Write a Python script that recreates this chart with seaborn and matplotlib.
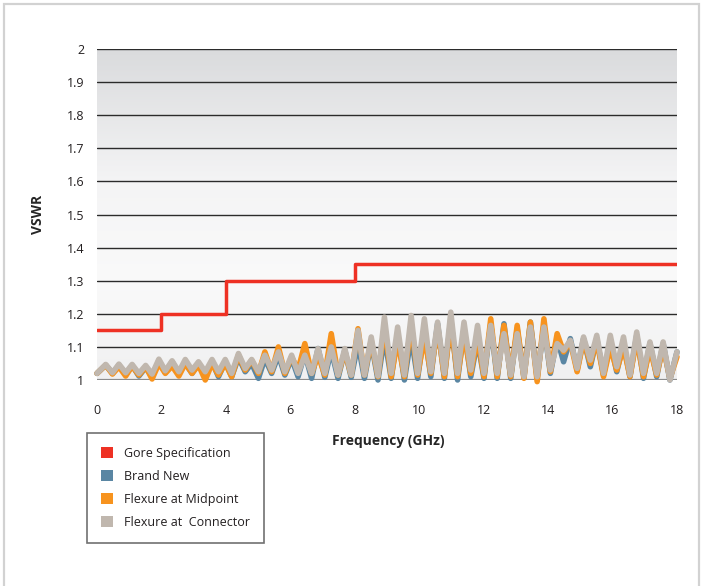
import matplotlib
matplotlib.use('Agg')
import matplotlib.pyplot as plt
import seaborn as sns
import numpy as np
from matplotlib.patches import Patch, Rectangle
from matplotlib.colors import LinearSegmentedColormap

# frequencies (GHz) of the read-off turning points, shared by the three measured curves
freq = [0.0,
        0.27, 0.48, 0.68, 0.89, 1.09, 1.30, 1.51, 1.71, 1.92, 2.12,
        2.33, 2.54, 2.74, 2.95, 3.15, 3.36, 3.57, 3.77, 3.98, 4.18,
        4.39, 4.60, 4.80, 5.01, 5.21, 5.42, 5.63, 5.83, 6.04, 6.24,
        6.45, 6.66, 6.86, 7.07, 7.27, 7.48, 7.69, 7.89, 8.10, 8.30,
        8.51, 8.72, 8.92, 9.13, 9.33, 9.54, 9.75, 9.95, 10.16, 10.36,
        10.57, 10.78, 10.98, 11.19, 11.39, 11.60, 11.81, 12.01, 12.22, 12.42,
        12.63, 12.84, 13.04, 13.25, 13.45, 13.66, 13.87, 14.07, 14.28, 14.48,
        14.69, 14.90, 15.10, 15.31, 15.51, 15.72, 15.93, 16.13, 16.34, 16.54,
        16.75, 16.96, 17.16, 17.37, 17.57, 17.78,
        18.0]

connector = [1.02,
             1.047, 1.022, 1.048, 1.022, 1.047, 1.02, 1.044, 1.018, 1.063, 1.028, 1.058, 1.025, 1.062, 1.03,
             1.055, 1.025, 1.062, 1.025, 1.062, 1.02, 1.08, 1.035, 1.062, 1.025, 1.075, 1.03, 1.085, 1.025, 1.075,
             1.02, 1.075, 1.02, 1.095, 1.02, 1.10, 1.015, 1.095, 1.015, 1.15, 1.015, 1.13, 1.012, 1.19,
             1.02, 1.16, 1.015, 1.195, 1.02, 1.185, 1.025, 1.175, 1.02, 1.205, 1.02, 1.175, 1.03, 1.165, 1.02, 1.165,
             1.02, 1.14, 1.015, 1.14, 1.01, 1.16, 1.01, 1.16, 1.03, 1.11, 1.09, 1.12, 1.035, 1.13, 1.06, 1.135,
             1.02, 1.135, 1.04, 1.13, 1.015, 1.145, 1.02, 1.115, 1.02, 1.115, 1.0,
             1.085]

midpoint = [1.02,
            1.045, 1.018, 1.04, 1.012, 1.042, 1.015, 1.04, 1.003, 1.05, 1.02, 1.042, 1.012, 1.05, 1.02,
            1.045, 1.0, 1.05, 1.015, 1.05, 1.01, 1.075, 1.03, 1.06, 1.02, 1.085, 1.025, 1.10, 1.02, 1.07,
            1.03, 1.11, 1.02, 1.075, 1.015, 1.14, 1.015, 1.085, 1.015, 1.155, 1.015, 1.12, 1.01, 1.165,
            1.01, 1.12, 1.01, 1.17, 1.015, 1.13, 1.02, 1.16, 1.01, 1.175, 1.01, 1.14, 1.02, 1.13, 1.01, 1.185,
            1.01, 1.165, 1.01, 1.165, 1.005, 1.175, 0.995, 1.185, 1.025, 1.14, 1.085, 1.115, 1.025, 1.12, 1.05, 1.12,
            1.01, 1.10, 1.03, 1.10, 1.01, 1.125, 1.01, 1.095, 1.015, 1.10, 1.005,
            1.07]

brand_new = [1.02,
             1.045, 1.02, 1.045, 1.016, 1.044, 1.012, 1.038, 1.01, 1.058, 1.022, 1.055, 1.02, 1.05, 1.02,
             1.05, 1.015, 1.055, 1.01, 1.055, 1.01, 1.068, 1.025, 1.05, 1.005, 1.065, 1.02, 1.075, 1.015, 1.065,
             1.01, 1.08, 1.005, 1.095, 1.008, 1.09, 1.005, 1.09, 1.008, 1.11, 1.005, 1.115, 1.0, 1.13,
             1.005, 1.14, 1.0, 1.13, 1.005, 1.15, 1.01, 1.17, 1.005, 1.185, 1.0, 1.155, 1.01, 1.12, 1.005, 1.17,
             1.005, 1.17, 1.005, 1.155, 1.008, 1.175, 1.005, 1.165, 1.02, 1.125, 1.055, 1.125, 1.03, 1.125, 1.04, 1.125,
             1.015, 1.115, 1.025, 1.11, 1.01, 1.135, 1.005, 1.11, 1.01, 1.11, 1.0,
             1.085]

# Gore specification limit (step function)
spec_freq = [0, 2, 4, 8, 18]
spec_vswr = [1.15, 1.2, 1.3, 1.35, 1.35]

xticks = [0, 2, 4, 6, 8, 10, 12, 14, 16, 18]
yticks = [1.0, 1.1, 1.2, 1.3, 1.4, 1.5, 1.6, 1.7, 1.8, 1.9, 2.0]
ytick_labels = ['1', '1.1', '1.2', '1.3', '1.4', '1.5', '1.6', '1.7', '1.8', '1.9', '2']

RED = '#ee3124'
BLUE = '#5a86a3'
ORANGE = '#f7931e'
GREY = '#c0b7ae'

sns.set_theme(style='white')
plt.rcParams['font.family'] = ['Open Sans', 'DejaVu Sans']
plt.rcParams['text.color'] = '#231f20'

fig = plt.figure(figsize=(7.02, 5.86), dpi=100)
ax = fig.add_axes([97 / 702, 1 - 380 / 586, 580 / 702, 331 / 586])

# gradient backdrop of the plot area
cmap = LinearSegmentedColormap.from_list('bg', [(0, '#f0f0f1'), (0.3, '#fafafa'), (0.6, '#f4f4f5'), (1, '#dadbdd')])
ax.imshow(np.linspace(0, 1, 256).reshape(-1, 1), extent=[0, 18, 1, 2], origin='lower',
          aspect='auto', cmap=cmap, zorder=0)

for v in yticks:
    if v == 1.0:
        ax.axhline(v, color='#8c8c8c', lw=1.6, zorder=1)
    else:
        ax.axhline(v, color='#2b2b2b', lw=1.0, zorder=1)

sns.lineplot(x=freq, y=brand_new, ax=ax, color=BLUE, lw=4.0,
             solid_joinstyle='round', clip_on=False, zorder=3)
sns.lineplot(x=freq, y=midpoint, ax=ax, color=ORANGE, lw=4.0,
             solid_joinstyle='round', clip_on=False, zorder=4)
sns.lineplot(x=freq, y=connector, ax=ax, color=GREY, lw=4.0,
             solid_joinstyle='round', clip_on=False, zorder=5)
sns.lineplot(x=spec_freq, y=spec_vswr, ax=ax, color=RED, lw=2.5,
             drawstyle='steps-post', zorder=6)

ax.set_xlim(0, 18)
ax.set_ylim(1, 2)
ax.set_xticks(xticks)
ax.set_xticklabels([str(t) for t in xticks])
ax.set_yticks(yticks)
ax.set_yticklabels(ytick_labels)
ax.tick_params(axis='x', length=0, pad=17, labelsize=9, labelcolor='#231f20')
ax.tick_params(axis='y', length=0, pad=9, labelsize=9, labelcolor='#231f20')
for s in ax.spines.values():
    s.set_visible(False)

ax.set_xlabel('Frequency (GHz)', fontsize=10, fontweight='bold', va='center', ha='center')
ax.xaxis.set_label_coords(0.502, -(441 - 380) / 331)
ax.set_ylabel('VSWR', fontsize=10, fontweight='bold', va='center', ha='center')
ax.yaxis.set_label_coords((38 - 97) / 580, (380 - 214) / 331)

handles = [Patch(facecolor=RED, edgecolor='none', label='Gore Specification'),
           Patch(facecolor=BLUE, edgecolor='none', label='Brand New'),
           Patch(facecolor=ORANGE, edgecolor='none', label='Flexure at Midpoint'),
           Patch(facecolor=GREY, edgecolor='none', label='Flexure at  Connector')]
leg = ax.legend(handles=handles, loc='upper left', bbox_to_anchor=(87 / 702, 1 - 433 / 586),
                bbox_transform=fig.transFigure, frameon=True, fancybox=False, fontsize=9,
                handlelength=1.0, handleheight=1.0, handletextpad=0.9, labelspacing=0.8,
                borderpad=1.1, borderaxespad=0)
leg.get_frame().set_edgecolor('#4d4d4d')
leg.get_frame().set_linewidth(1.2)
for t in leg.get_texts():
    t.set_color('#231f20')

# light outer frame of the figure
fig.patches.append(Rectangle((4 / 702, -0.02), 695 / 702, 1.02 - 4 / 586, transform=fig.transFigure,
                             fill=False, edgecolor='#d2d2d2', lw=1.6))

fig.savefig('out.png', dpi=100)
